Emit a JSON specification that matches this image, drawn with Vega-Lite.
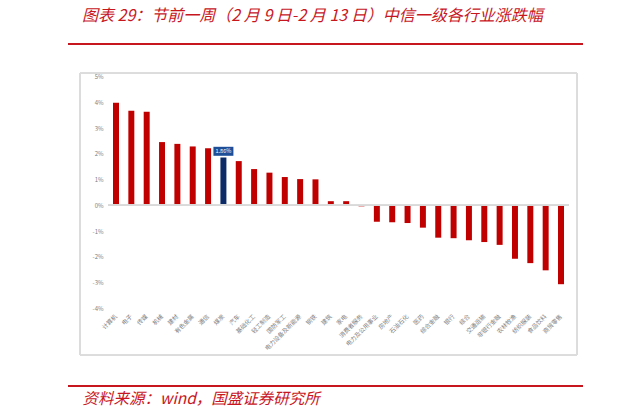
{
  "$schema": "https://vega.github.io/schema/vega-lite/v6.json",
  "width": 515,
  "height": 282,
  "autosize": {"type": "none"},
  "padding": {"left": 68, "top": 73, "right": 39, "bottom": 63},
  "background": "white",
  "config": {
    "view": {"stroke": null},
    "font": "Noto Sans CJK SC"
  },
  "title": {
    "text": "图表 29：节前一周（2 月 9 日-2 月 13 日）中信一级各行业涨跌幅",
    "anchor": "start",
    "frame": "group",
    "dx": 14,
    "offset": 6,
    "baseline": "alphabetic",
    "color": "#c8161e",
    "font": "Noto Sans CJK SC",
    "fontSize": 16,
    "fontStyle": "italic",
    "fontWeight": "normal"
  },
  "resolve": {"axis": {"x": "independent", "y": "independent"}},
  "data": {
    "values": [
      {"industry": "计算机", "pct": 3.99},
      {"industry": "电子", "pct": 3.68},
      {"industry": "传媒", "pct": 3.64},
      {"industry": "机械", "pct": 2.46},
      {"industry": "建材", "pct": 2.39},
      {"industry": "有色金属", "pct": 2.29},
      {"industry": "通信", "pct": 2.22},
      {"industry": "煤炭", "pct": 1.86},
      {"industry": "汽车", "pct": 1.72},
      {"industry": "基础化工", "pct": 1.41},
      {"industry": "轻工制造", "pct": 1.27},
      {"industry": "国防军工", "pct": 1.10},
      {"industry": "电力设备及新能源", "pct": 1.02},
      {"industry": "钢铁", "pct": 1.01},
      {"industry": "建筑", "pct": 0.16},
      {"industry": "家电", "pct": 0.16},
      {"industry": "消费者服务", "pct": -0.04},
      {"industry": "电力及公用事业", "pct": -0.64},
      {"industry": "房地产", "pct": -0.66},
      {"industry": "石油石化", "pct": -0.69},
      {"industry": "医药", "pct": -0.87},
      {"industry": "综合金融", "pct": -1.26},
      {"industry": "银行", "pct": -1.28},
      {"industry": "综合", "pct": -1.36},
      {"industry": "交通运输", "pct": -1.43},
      {"industry": "非银行金融", "pct": -1.54},
      {"industry": "农林牧渔", "pct": -2.08},
      {"industry": "纺织服装", "pct": -2.25},
      {"industry": "食品饮料", "pct": -2.53},
      {"industry": "商贸零售", "pct": -3.07}
    ]
  },
  "layer": [
    {
      "mark": {"type": "bar", "color": "#c00000"},
      "encoding": {
        "x": {
          "field": "industry",
          "type": "nominal",
          "sort": null,
          "scale": {
            "domain": ["计算机", "电子", "传媒", "机械", "建材", "有色金属", "通信", "煤炭", "汽车", "基础化工", "轻工制造", "国防军工", "电力设备及新能源", "钢铁", "建筑", "家电", "消费者服务", "电力及公用事业", "房地产", "石油石化", "医药", "综合金融", "银行", "综合", "交通运输", "非银行金融", "农林牧渔", "纺织服装", "食品饮料", "商贸零售"],
            "range": [45, 496],
            "paddingInner": 0.61,
            "paddingOuter": 0
          },
          "axis": {
            "orient": "bottom",
            "offset": 31,
            "domain": false,
            "ticks": false,
            "tickSize": 0,
            "grid": false,
            "labelAngle": -45,
            "labelAlign": "right",
            "labelBaseline": "middle",
            "labelPadding": -71,
            "labelFontSize": 6,
            "labelColor": "#808080",
            "labelFont": "Noto Sans CJK SC",
            "title": "资料来源：wind，国盛证券研究所",
            "titleX": 14,
            "titleY": 17,
            "titleAlign": "left",
            "titleBaseline": "alphabetic",
            "titleColor": "#c8161e",
            "titleFont": "Noto Sans CJK SC",
            "titleFontSize": 15.5,
            "titleFontStyle": "italic",
            "titleFontWeight": "normal"
          }
        },
        "y": {
          "field": "pct",
          "type": "quantitative",
          "scale": {"domain": [-5.825, 5.148], "nice": false, "zero": false},
          "axis": {
            "values": [-4, -3, -2, -1, 0, 1, 2, 3, 4, 5],
            "labelExpr": "datum.value + '%'",
            "domain": false,
            "ticks": false,
            "tickSize": 0,
            "grid": false,
            "labelPadding": -35,
            "labelFontSize": 6,
            "labelColor": "#808080",
            "title": null
          }
        },
        "color": {
          "condition": {"test": "datum.industry === '煤炭'", "value": "#0b2a66"},
          "value": "#c00000"
        }
      }
    },
    {
      "mark": {"type": "rule", "color": "#c8161e", "strokeWidth": 2},
      "encoding": {
        "y": {"datum": 6.276, "axis": null}
      }
    },
    {
      "mark": {"type": "rule", "color": "#c8161e", "strokeWidth": 2},
      "encoding": {
        "y": {"datum": -7.031, "axis": null}
      }
    },
    {
      "mark": {"type": "rect", "fillOpacity": 0, "stroke": "#dcdcdc", "strokeWidth": 1, "xOffset": -36, "x2Offset": 16},
      "encoding": {
        "x": {"datum": "计算机", "axis": null},
        "x2": {"datum": "商贸零售"}
      }
    },
    {
      "mark": {"type": "rule", "color": "#d9d9d9", "strokeWidth": 1, "xOffset": -8, "x2Offset": 8},
      "encoding": {
        "x": {"datum": "计算机", "axis": null},
        "x2": {"datum": "商贸零售"},
        "y": {"datum": 0, "axis": null}
      }
    },
    {
      "transform": [{"filter": "datum.industry === '煤炭'"}],
      "mark": {
        "type": "point",
        "shape": "M-1,-0.45L1,-0.45L1,0.45L-1,0.45Z",
        "size": 400,
        "filled": true,
        "opacity": 1,
        "color": "#1f4e99",
        "yOffset": -6.2
      },
      "encoding": {
        "x": {"field": "industry", "type": "nominal", "axis": null},
        "y": {"field": "pct", "type": "quantitative", "axis": null}
      }
    },
    {
      "transform": [
        {"filter": "datum.industry === '煤炭'"},
        {"calculate": "format(datum.pct, '.2f') + '%'", "as": "label"}
      ],
      "mark": {
        "type": "text",
        "color": "white",
        "fontSize": 5.5,
        "align": "center",
        "baseline": "middle",
        "yOffset": -6.2
      },
      "encoding": {
        "x": {"field": "industry", "type": "nominal", "axis": null},
        "y": {"field": "pct", "type": "quantitative", "axis": null},
        "text": {"field": "label"}
      }
    }
  ]
}
